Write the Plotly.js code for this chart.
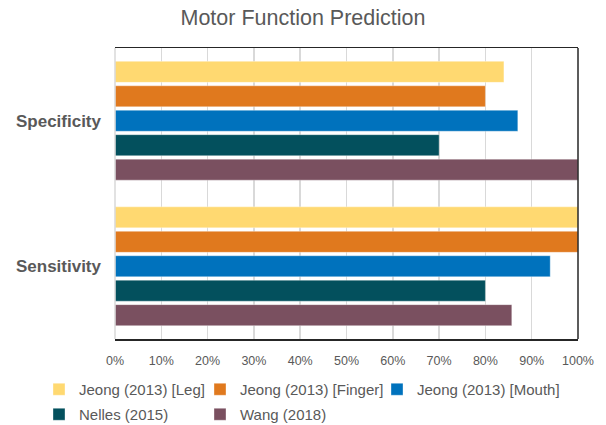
<!DOCTYPE html>
<html>
<head>
<meta charset="utf-8">
<script src="https://cdn.plot.ly/plotly-3.0.1.min.js"></script>
<style>html,body{margin:0;padding:0;background:#fff;}#chart{width:606px;height:425px;}</style>
</head>
<body>
<div id="chart"></div>
<script>
const categories = ['Specificity', 'Sensitivity'];
const seriesNames = ['Jeong (2013) [Leg]', 'Jeong (2013) [Finger]', 'Jeong (2013) [Mouth]', 'Nelles (2015)', 'Wang (2018)'];
const legValues = [0.84, 1.00];
const fingerValues = [0.80, 1.00];
const mouthValues = [0.87, 0.94];
const nellesValues = [0.70, 0.80];
const wangValues = [1.00, 0.857];
const tickVals = [0, 0.1, 0.2, 0.3, 0.4, 0.5, 0.6, 0.7, 0.8, 0.9, 1.0];
const tickLabels = ['0%', '10%', '20%', '30%', '40%', '50%', '60%', '70%', '80%', '90%', '100%'];
const colors = ['#FFD971', '#E0791E', '#0072BD', '#03505D', '#7A5060'];

const allValues = [legValues, fingerValues, mouthValues, nellesValues, wangValues];
const legendIds = ['legend', 'legend2', 'legend3', 'legend4', 'legend5'];
const traces = allValues.map((vals, i) => ({
  type: 'bar',
  orientation: 'h',
  name: seriesNames[i],
  x: vals,
  y: categories,
  legend: legendIds[i],
  marker: {color: colors[i], line: {color: 'rgba(255,255,255,0.35)', width: 1}},
  hoverinfo: 'x+name'
}));

// legend grid placement (pixels): 3 columns, 2 rows, as in the reference
const legendLeft = [39, 200, 377, 39, 200];
const legendTop = [373, 373, 373, 398, 398];

const layout = {
  width: 606, height: 425,
  margin: {l: 115, r: 28, t: 48, b: 86},
  paper_bgcolor: '#ffffff', plot_bgcolor: '#ffffff',
  font: {family: 'Liberation Sans, Arial, sans-serif', color: '#595959'},
  title: {text: 'Motor Function Prediction', font: {size: 21.5, color: '#595959'}, x: 0.5, xanchor: 'center', y: 0.958, yanchor: 'middle'},
  barmode: 'group',
  bargap: 0.16,
  bargroupgap: 0.14,
  xaxis: {
    range: [0, 1.0], tickvals: tickVals, ticktext: tickLabels,
    showgrid: true, gridcolor: '#d9d9d9', gridwidth: 1.5,
    zeroline: false, showline: true, linecolor: '#262626', linewidth: 1.5, mirror: true,
    ticks: '', tickfont: {size: 12.5, color: '#595959'}, ticklabelstandoff: 9, fixedrange: true
  },
  yaxis: {
    type: 'category', categoryorder: 'array', categoryarray: categories, autorange: 'reversed',
    showgrid: false, zeroline: false, showline: false, ticks: '',
    tickfont: {size: 17, color: '#595959', weight: 'bold'}, ticklabelstandoff: 13, fixedrange: true
  },
  shapes: [
    {type: 'line', xref: 'paper', yref: 'paper', x0: 1, x1: 1, y0: 0, y1: 1, line: {color: '#262626', width: 1.5}},
    {type: 'line', xref: 'paper', yref: 'paper', x0: 0, x1: 0, y0: 0, y1: 1, line: {color: '#d9d9d9', width: 1.5}}
  ],
  showlegend: true
};

legendIds.forEach((id, i) => {
  layout[id] = {
    orientation: 'h', xref: 'container', yref: 'container',
    x: legendLeft[i] / 606, xanchor: 'left', y: (425 - legendTop[i]) / 425, yanchor: 'top',
    font: {size: 15, color: '#595959'}, itemwidth: 30, bgcolor: 'rgba(0,0,0,0)'
  };
});

Plotly.newPlot('chart', traces, layout, {displayModeBar: false, staticPlot: true});
</script>
</body>
</html>
